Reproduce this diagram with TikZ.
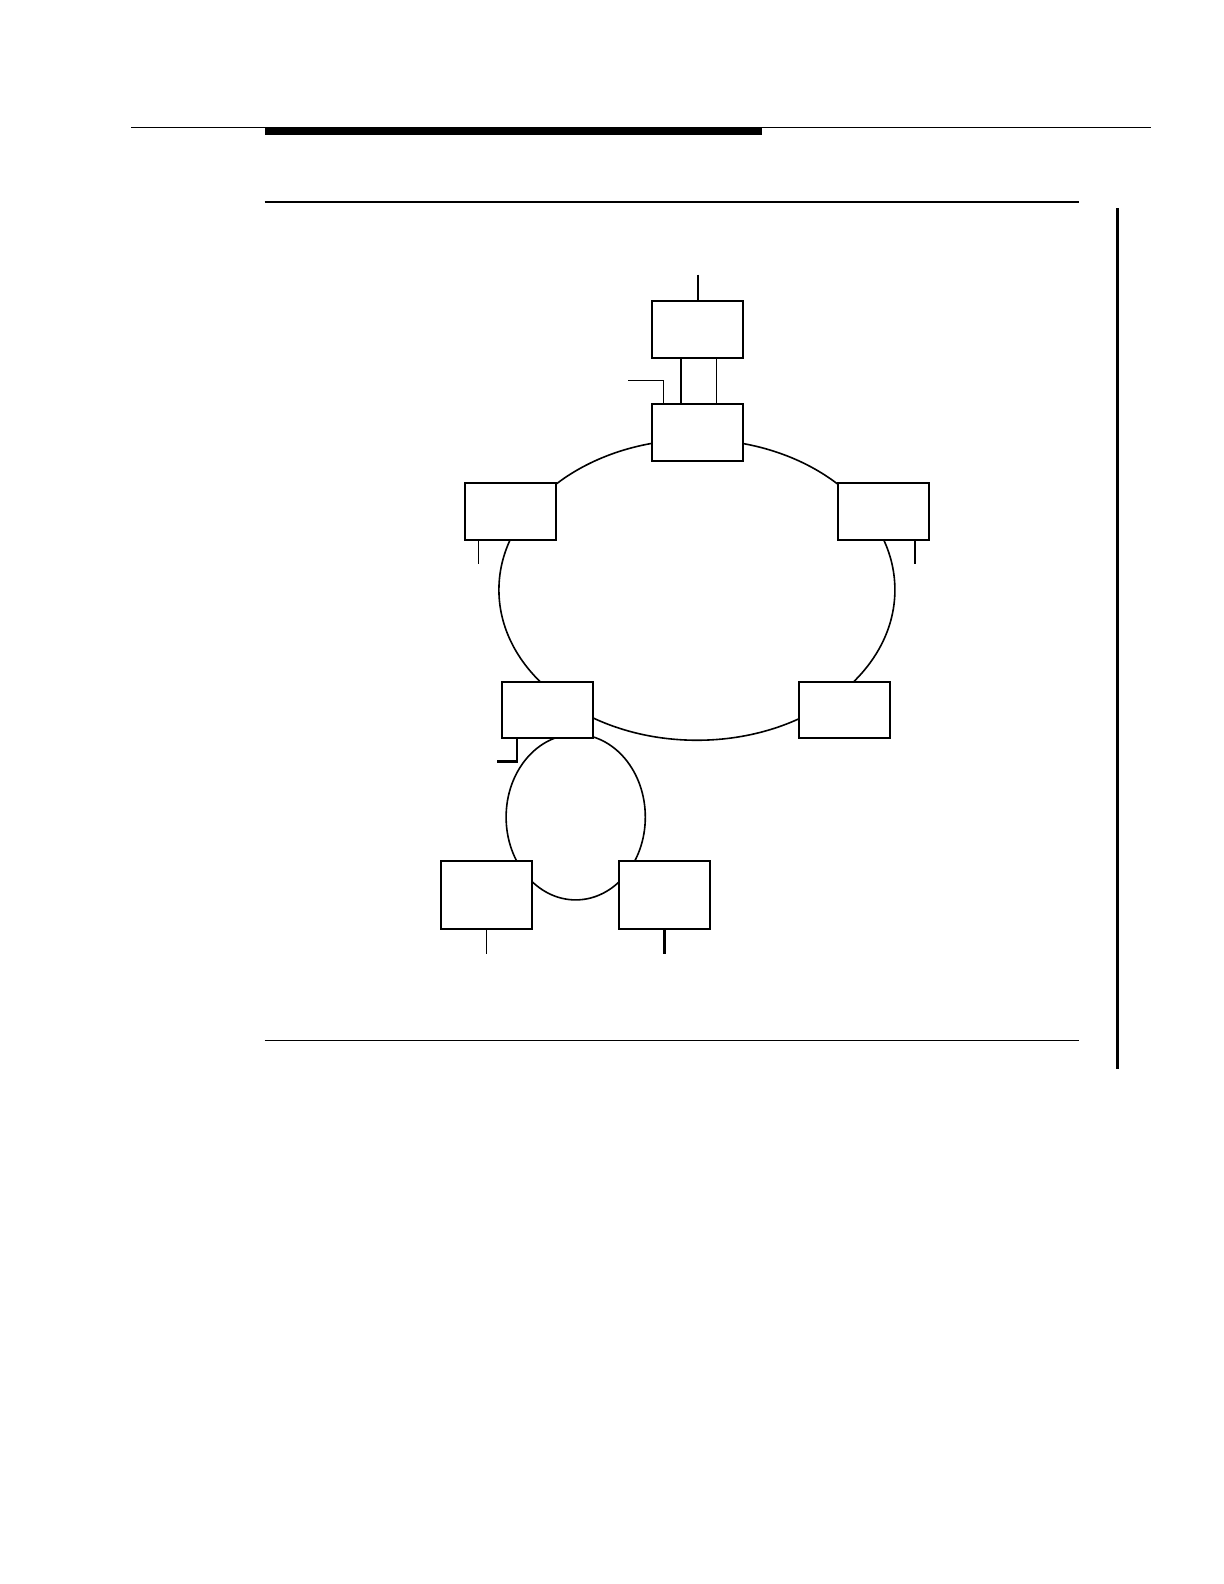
\documentclass[tikz,border=0pt]{standalone}
\usepackage{tikz}
\begin{document}
\begin{tikzpicture}[
      x=0.505pt, y=-0.505pt,
      station/.style={draw,fill=white,line width=1pt,inner sep=0pt,minimum width=45.5pt,minimum height=28.3pt},
      spur/.style={station,minimum height=34.3pt},
      ring/.style={line width=0.8pt},
      lead/.style={line width=0.5pt},
      heavy/.style={line width=1.1pt},
      rule/.style={line width=0.5pt}
    ]
    \useasboundingbox (0pt,0pt) rectangle (612pt,-792pt);
    % Draw the page rules.
    \draw[rule] (130,126.5) -- (1140,126.5);
    \fill (262,126) rectangle (754,134);
    \draw[line width=1pt] (262,200) -- (1068,200);
    \draw[rule] (262,1030) -- (1068,1030);
    \draw[line width=1.5pt] (1106,206) -- (1106,1058);
    % Draw the rings.
    \draw[ring] (690,584) ellipse [x radius=99pt, y radius=75.2pt];
    \draw[ring] (570,809) ellipse [x radius=34.8pt, y radius=41.4pt];
    % Draw the stations.
    \node[station] (hub)    at (691,326)   {};
    \node[station] (gate)   at (691,428)   {};
    \node[station] (west)   at (505.5,506.5) {};
    \node[station] (east)   at (874.5,506.5) {};
    \node[station] (bridge) at (542.5,703) {};
    \node[station] (south)  at (836.5,703) {};
    \node[spur] (spurwest)  at (481.5,886) {};
    \node[spur] (spureast)  at (658,886)   {};
    % Draw the free ends.
    \coordinate (feed)       at (691,272);
    \coordinate (gatetap)    at (622,377);
    \coordinate (westtap)    at (474,558);
    \coordinate (easttap)    at (906,558);
    \coordinate (bridgebend) at (512,754);
    \coordinate (bridgetap)  at (492,754);
    \coordinate (westdrop)   at (482,945);
    \coordinate (eastdrop)   at (658,945);
    % Draw the links.
    \draw[heavy] (feed) -- (hub.north);
    \draw[heavy] ([xshift=-8.6pt]hub.south) -- ([xshift=-8.6pt]gate.north);
    \draw[lead]  ([xshift=9.1pt]hub.south) -- ([xshift=9.1pt]gate.north);
    \draw[lead]  (gatetap) -| ([xshift=-17.2pt]gate.north);
    \draw[lead]  (west.south -| westtap) -- (westtap);
    \draw[heavy] (east.south -| easttap) -- (easttap);
    \draw[heavy] (bridge.south -| bridgebend) |- (bridgetap);
    \draw[lead]  (spurwest.south -| westdrop) -- (westdrop);
    \draw[heavy] (spureast.south -| eastdrop) -- (eastdrop);
\end{tikzpicture}
\end{document}
